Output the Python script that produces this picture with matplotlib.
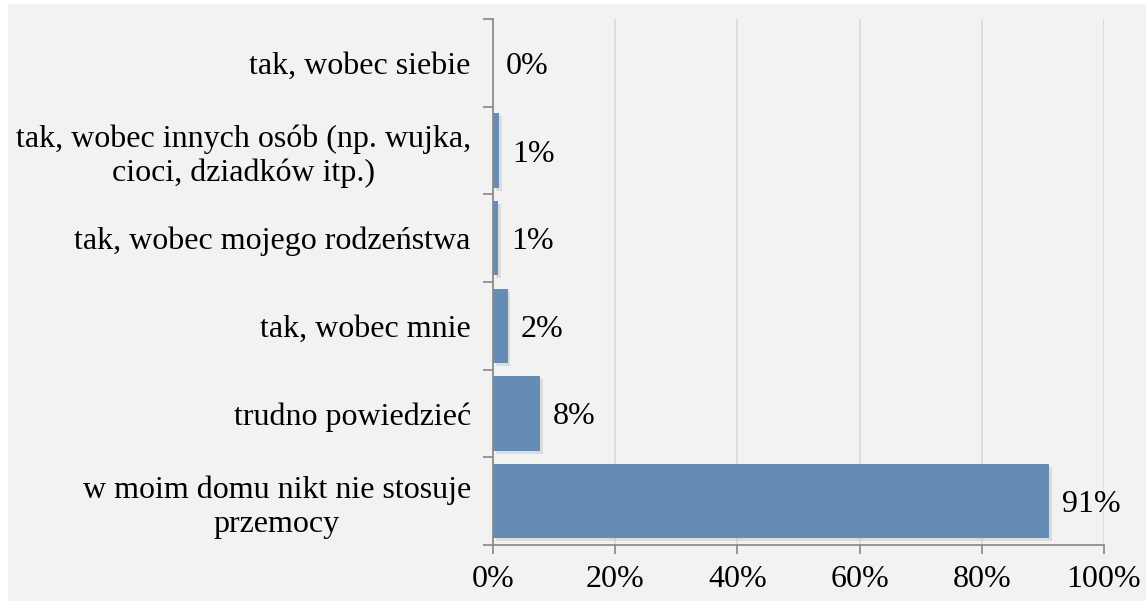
import numpy as np
import matplotlib.pyplot as plt
import matplotlib.patheffects as pe
from matplotlib.patches import Rectangle

# categories from top to bottom
categories = [
    "tak, wobec siebie",
    "tak, wobec innych osób (np. wujka,\ncioci, dziadków itp.)",
    "tak, wobec mojego rodzeństwa",
    "tak, wobec mnie",
    "trudno powiedzieć",
    "w moim domu nikt nie stosuje\nprzemocy",
]
values = [0.0, 1.0, 0.9, 2.4, 7.7, 91.0]
value_labels = ["0%", "1%", "1%", "2%", "8%", "91%"]
x_ticks = [0, 20, 40, 60, 80, 100]
x_tick_labels = ["0%", "20%", "40%", "60%", "80%", "100%"]

plt.rcParams['font.family'] = ['Liberation Serif', 'DejaVu Serif']
fs = 23

fig = plt.figure(figsize=(11.46, 6.01), dpi=100, facecolor='white')
# gray chart area with a thin white border top/left
fig.patches.append(Rectangle((8 / 1146, 0), 1, 1 - 4 / 601, transform=fig.transFigure,
                             facecolor='#f2f2f2', edgecolor='none', zorder=-5))

ax = fig.add_axes([493 / 1146, 1 - 545 / 601, (1104 - 493) / 1146, (545 - 19) / 601])
ax.set_facecolor('#f2f2f2')

y = np.arange(len(categories))[::-1]
bars = ax.barh(y, values, height=0.85, color='#658cb2', zorder=3)
for b in bars:
    b.set_path_effects([pe.SimplePatchShadow(offset=(2, -2), shadow_rgbFace='#aaaaaa', alpha=0.3),
                        pe.Normal()])

for yi, v, lab in zip(y, values, value_labels):
    ax.annotate(lab, (v, yi), xytext=(13, 0), textcoords='offset pixels',
                va='center_baseline', ha='left', fontsize=fs, color='black')

ax.set_xlim(0, 100)
ax.set_ylim(-0.5, len(categories) - 0.5)
ax.set_xticks(x_ticks)
ax.set_xticklabels(x_tick_labels, fontsize=fs)
ax.set_yticks(y)
ax.set_yticklabels(categories, fontsize=fs, multialignment='center', linespacing=1.22)
for t in ax.get_yticklabels():
    t.set_verticalalignment('center_baseline')

# tick marks between categories
ax.set_yticks(np.arange(-0.5, len(categories)), minor=True)
ax.tick_params(axis='y', which='major', length=0, pad=16)
ax.tick_params(axis='y', which='minor', length=7, color='#868686', width=1.2)
ax.tick_params(axis='x', length=6.5, color='#868686', width=1.2, pad=8)

ax.grid(axis='x', color='#d9d9d9', linewidth=1.2, zorder=0)
ax.set_axisbelow(True)
for s in ['top', 'right']:
    ax.spines[s].set_visible(False)
for s in ['left', 'bottom']:
    ax.spines[s].set_color('#868686')
    ax.spines[s].set_linewidth(1.2)

fig.savefig('out.png', dpi=100, facecolor=fig.get_facecolor())
